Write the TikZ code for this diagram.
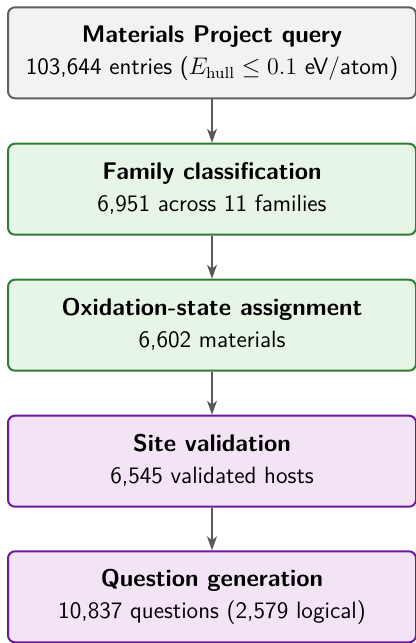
\documentclass[tikz,border=0pt]{standalone}
\usetikzlibrary{arrows.meta}
\definecolor{grayfill}{HTML}{F2F2F2}
\definecolor{graydraw}{HTML}{606060}
\definecolor{greenfill}{HTML}{E7F5E7}
\definecolor{greendraw}{HTML}{2E7D32}
\definecolor{purplefill}{HTML}{F3E4F5}
\definecolor{purpledraw}{HTML}{6A1B9A}
\definecolor{arrowgray}{HTML}{5A5A5A}
\newcommand{\stagetitle}[1]{{\fontsize{12.05}{16.15}\selectfont\bfseries\rule{0pt}{9pt}#1}}
\newcommand{\stagesub}[1]{\rule[-3pt]{0pt}{3pt}#1}
\tikzset{
  stage/.style={rounded corners=3.5pt, line width=1pt, minimum width=204pt, minimum height=45.5pt, align=center, inner sep=0pt, font=\fontsize{11.8}{16.15}\selectfont\sffamily},
  graystage/.style={stage, fill=grayfill, draw=graydraw},
  greenstage/.style={stage, fill=greenfill, draw=greendraw},
  purplestage/.style={stage, fill=purplefill, draw=purpledraw},
  flow/.style={draw=arrowgray, line width=0.75pt, -{Stealth[length=7pt,width=5pt,inset=2pt]}}
}
\begin{document}
\begin{tikzpicture}[x=1pt,y=-1pt]
\useasboundingbox (0,0) rectangle (208,321.5);
\node[graystage] (q) at (106,26.4) {\stagetitle{Materials Project query}\\ \stagesub{103,644 entries ($E_{\mathrm{hull}} \leq 0.1$ eV/atom)}};
\node[greenstage] (f) at (106,94.6) {\stagetitle{Family classification}\\ \stagesub{6,951 across 11 families}};
\node[greenstage] (o) at (106,162.6) {\stagetitle{Oxidation-state assignment}\\ \stagesub{6,602 materials}};
\node[purplestage] (s) at (106,230.6) {\stagetitle{Site validation}\\ \stagesub{6,545 validated hosts}};
\node[purplestage] (g) at (106,298.4) {\stagetitle{Question generation}\\ \stagesub{10,837 questions (2,579 logical)}};
\draw[flow] (q) -- (f);
\draw[flow] (f) -- (o);
\draw[flow] (o) -- (s);
\draw[flow] (s) -- (g);
\end{tikzpicture}
\end{document}
